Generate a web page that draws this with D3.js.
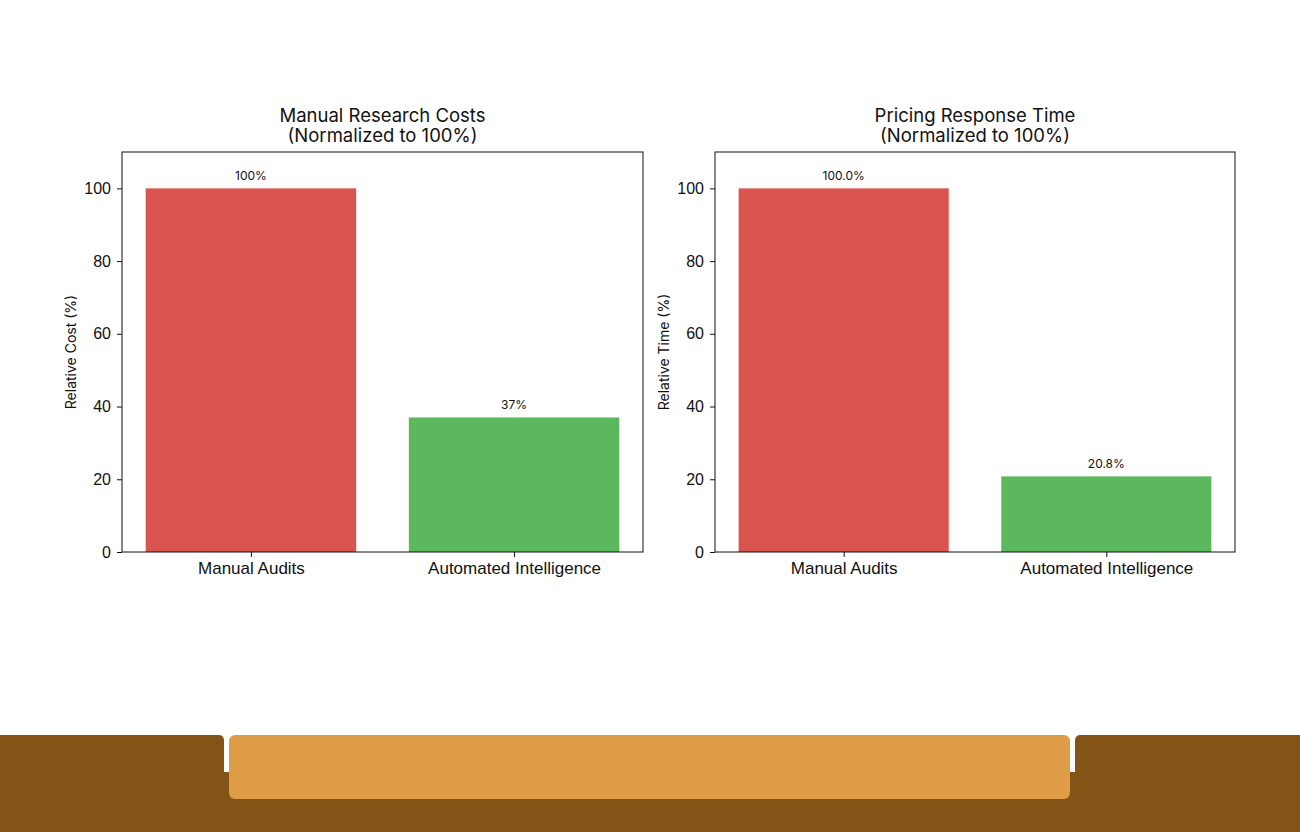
<!DOCTYPE html>
<html>
<head>
<meta charset="utf-8">
<script src="https://cdn.jsdelivr.net/npm/d3@7"></script>
<style>
  body { margin: 0; background: #fff; }
  svg { display: block; font-family: "Inter", "Open Sans", sans-serif; }
</style>
</head>
<body>
<svg class="chart" width="1300" height="832"></svg>
<script>
// data
var categories = ["Manual Audits", "Automated Intelligence"];
var costValues = [100, 37];
var costLabels = ["100%", "37%"];
var timeValues = [100, 20.8];
var timeLabels = ["100.0%", "20.8%"];
var yTicks = [0, 20, 40, 60, 80, 100];
var barColors = ["#d9534f", "#5cb85c"];

var svg = d3.select(".chart");

// footer strip
var footer = svg.append('g').attr('class', 'footer');
footer.append('rect').attr('x', 0).attr('y', 772).attr('width', 1300).attr('height', 60).attr('fill', '#835416');
footer.append('rect').attr('x', -10).attr('y', 735).attr('width', 234).attr('height', 97).attr('rx', 5).attr('fill', '#835416');
footer.append('rect').attr('x', 1075).attr('y', 735).attr('width', 240).attr('height', 97).attr('rx', 5).attr('fill', '#835416');
footer.append('rect').attr('x', 229).attr('y', 735).attr('width', 841).attr('height', 64).attr('rx', 6).attr('fill', '#e09d48');

function drawPanel(left, width, title, yLabel, values, labels)
{
    const top = 152, height = 400;
    const g = svg.append('g').attr('transform', `translate(${left}, ${top})`);

    const xScale = d3.scaleLinear().domain([-0.49, 1.49]).range([0, width]);
    const yScale = d3.scaleLinear().domain([0, 110]).range([height, 0]);

    g.selectAll('.bar')
        .data(values)
        .enter()
        .append('rect')
        .attr('class', 'bar')
        .attr('x', (d, i) => xScale(i - 0.4))
        .attr('width', xScale(0.8) - xScale(0))
        .attr('y', d => yScale(d))
        .attr('height', d => yScale(0) - yScale(d))
        .attr('fill', (d, i) => barColors[i]);

    g.selectAll('.val')
        .data(values)
        .enter()
        .append('text')
        .attr('class', 'val')
        .attr('x', (d, i) => xScale(i))
        .attr('y', d => yScale(d) - 8)
        .attr('text-anchor', 'middle')
        .attr('font-size', 12)
        .attr('fill', '#111')
        .text((d, i) => labels[i]);

    const yAxis = g.append('g')
        .call(d3.axisLeft(yScale).tickValues(yTicks).tickSize(5).tickPadding(6));
    yAxis.select('.domain').remove();
    yAxis.selectAll('.tick text').attr('font-size', 16).attr('fill', '#111').attr('font-family', null);
    yAxis.selectAll('.tick line').attr('stroke', '#111');

    const xAxis = g.append('g')
        .attr('transform', `translate(0, ${height})`)
        .call(d3.axisBottom(xScale).tickValues([0, 1]).tickFormat((d, i) => categories[i]).tickSize(5).tickPadding(5));
    xAxis.select('.domain').remove();
    xAxis.selectAll('.tick text').attr('font-size', 17).attr('fill', '#111').attr('font-family', null);
    xAxis.selectAll('.tick line').attr('stroke', '#111');

    g.append('rect')
        .attr('width', width)
        .attr('height', height)
        .attr('fill', 'none')
        .attr('stroke', '#111')
        .attr('stroke-width', 1);

    g.append('text')
        .attr('transform', 'rotate(-90)')
        .attr('x', -height / 2)
        .attr('y', -46)
        .attr('text-anchor', 'middle')
        .attr('font-size', 14)
        .attr('fill', '#111')
        .text(yLabel);

    const t = g.append('text')
        .attr('text-anchor', 'middle')
        .attr('font-size', 18.5)
        .attr('fill', '#111');
    t.append('tspan').attr('x', width / 2).attr('y', -30).text(title);
    t.append('tspan').attr('x', width / 2).attr('y', -10).text('(Normalized to 100%)');
}

drawPanel(122, 521, "Manual Research Costs", "Relative Cost (%)", costValues, costLabels);
drawPanel(715, 520, "Pricing Response Time", "Relative Time (%)", timeValues, timeLabels);
</script>
</body>
</html>
